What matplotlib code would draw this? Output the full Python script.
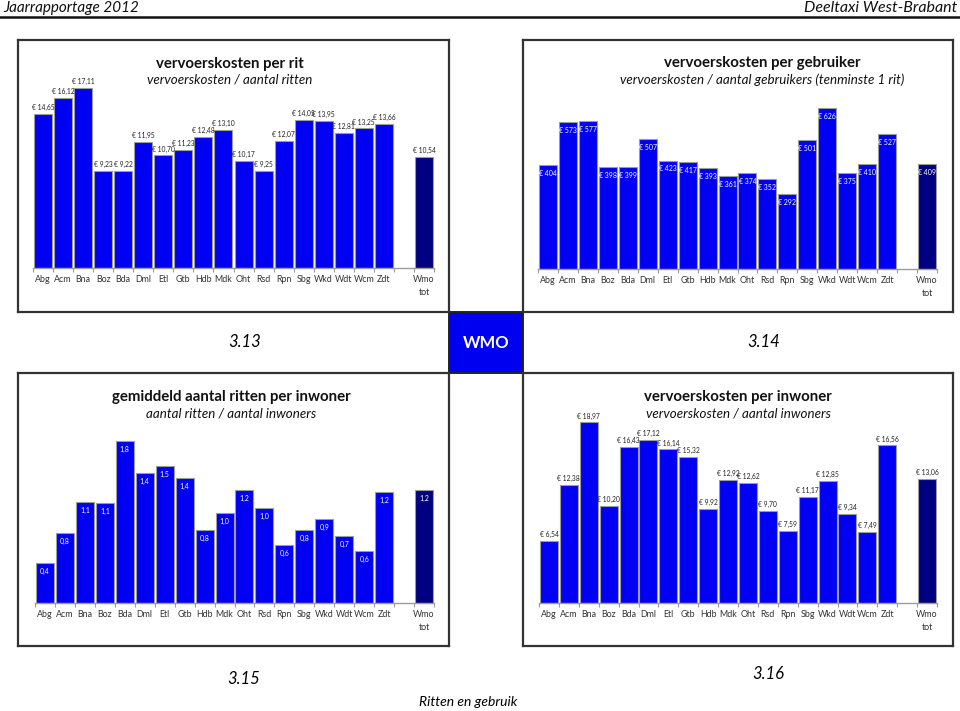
import matplotlib
matplotlib.use("Agg")
import matplotlib.pyplot as plt
from matplotlib.patches import Rectangle
from matplotlib.lines import Line2D

plt.rcParams["font.family"] = ["Lato", "DejaVu Sans"]

W, H = 960, 711

gemeenten = ["Abg", "Acm", "Bna", "Boz", "Bda", "Dml", "Etl", "Gtb", "Hdb",
             "Mdk", "Oht", "Rsd", "Rpn", "Sbg", "Wkd", "Wdt", "Wcm", "Zdt"]
tick_labels = gemeenten + ["", "Wmo\ntot"]

kosten_per_rit = [14.65, 16.12, 17.11, 9.23, 9.22, 11.95, 10.70, 11.23, 12.48,
                  13.10, 10.17, 9.25, 12.07, 14.05, 13.95, 12.81, 13.25, 13.66]
kosten_per_rit_wmo = 10.54

kosten_per_gebruiker = [404, 573, 577, 398, 399, 507, 423, 417, 393, 361, 374,
                        352, 292, 501, 626, 375, 410, 527]
kosten_per_gebruiker_wmo = 409

ritten_per_inwoner = [0.44, 0.77, 1.11, 1.10, 1.78, 1.43, 1.51, 1.37, 0.80,
                      0.99, 1.24, 1.04, 0.64, 0.80, 0.92, 0.74, 0.57, 1.22]
ritten_per_inwoner_wmo = 1.24

kosten_per_inwoner = [6.54, 12.38, 18.97, 10.20, 16.43, 17.12, 16.14, 15.32,
                      9.92, 12.92, 12.62, 9.70, 7.59, 11.17, 12.85, 9.34, 7.49,
                      16.56]
kosten_per_inwoner_wmo = 13.06

BLUE = "#0000f2"
NAVY = "#000080"
EDGE = "#9c9c9c"

fig = plt.figure(figsize=(W / 100, H / 100), dpi=100)


def fx(x):
    return x / W


def fy(y):
    return 1 - y / H


def hline(x0, x1, y, lw=1.6, color="#333333"):
    fig.add_artist(Line2D([fx(x0), fx(x1)], [fy(y), fy(y)], color=color, lw=lw))


def vline(x, y0, y1, lw=1.6, color="#333333"):
    fig.add_artist(Line2D([fx(x), fx(x)], [fy(y0), fy(y1)], color=color, lw=lw))


def box(x0, y0, x1, y1):
    hline(x0, x1, y0)
    hline(x0, x1, y1)
    vline(x0, y0, y1)
    vline(x1, y0, y1)


def bar_chart(x0, x1, base, top, scale, values, wmo, fmt, inside):
    ymax = (base - top) / scale
    ax = fig.add_axes([fx(x0), fy(base), (x1 - x0) / W, (base - top) / H])
    pos = list(range(18)) + [19]
    vals = list(values) + [wmo]
    colors = [BLUE] * 18 + [NAVY]
    ax.bar(pos, vals, width=0.9, color=colors, edgecolor=EDGE, linewidth=0.8)
    ax.set_xlim(-0.5, 19.5)
    ax.set_ylim(0, ymax)
    for p, v in zip(pos, vals):
        if inside:
            ax.annotate(fmt(v), (p, v), xytext=(0, -3.5), textcoords="offset points",
                        ha="center", va="top", fontsize=5.0, color="white")
        else:
            ax.annotate(fmt(v), (p, v), xytext=(0, 2), textcoords="offset points",
                        ha="center", va="bottom", fontsize=4.9, color="#222222")
    ax.set_xticks([i - 0.5 for i in range(21)])
    ax.set_xticklabels([])
    ax.set_xticks(range(20), minor=True)
    ax.set_xticklabels(tick_labels, minor=True, fontsize=6.4, color="#333333",
                       linespacing=1.6, va="top")
    ax.tick_params(axis="x", which="major", length=3, color=EDGE, direction="out")
    ax.tick_params(axis="x", which="minor", length=0, pad=5)
    ax.set_yticks([])
    for s in ["top", "left", "right"]:
        ax.spines[s].set_visible(False)
    ax.spines["bottom"].set_color(EDGE)
    ax.spines["bottom"].set_linewidth(1.0)
    return ax


def euro2(v):
    return "€ " + f"{v:.2f}".replace(".", ",")


def euro0(v):
    return f"€ {v:.0f}"


def dec1(v):
    return f"{v:.1f}".replace(".", ",")


# header
fig.text(fx(3), fy(8), "Jaarrapportage 2012", fontsize=11, style="italic",
         ha="left", va="center", color="#111111")
fig.text(fx(957), fy(8), "Deeltaxi West-Brabant", fontsize=11.5, style="italic",
         ha="right", va="center", color="#111111")
hline(0, 960, 16.5, lw=1.8, color="#111111")

# frames
box(18, 40, 449, 312)
box(523, 40, 953, 312)
box(18, 373, 449, 646)
box(523, 373, 953, 646)
fig.add_artist(Rectangle((fx(449), fy(373)), (523 - 449) / W, (373 - 312) / H,
                         facecolor="#0000f0", edgecolor="#222222", lw=1.4,
                         transform=fig.transFigure))
fig.text(fx(486), fy(343), "WMO", color="white", fontsize=12, fontweight="bold",
         ha="center", va="center")

# charts
bar_chart(33, 434, 268, 60, 10.53, kosten_per_rit, kosten_per_rit_wmo, euro2, False)
bar_chart(538, 937, 269, 60, 0.2565, kosten_per_gebruiker, kosten_per_gebruiker_wmo,
          euro0, True)
bar_chart(35, 434, 603, 420, 91.0, ritten_per_inwoner, ritten_per_inwoner_wmo,
          dec1, True)
bar_chart(539, 937, 603, 420, 9.52, kosten_per_inwoner, kosten_per_inwoner_wmo,
          euro2, False)

# titles
titles = [
    (230, 64, 80, "vervoerskosten per rit", "vervoerskosten / aantal ritten"),
    (762, 63, 80, "vervoerskosten per gebruiker",
     "vervoerskosten / aantal gebruikers (tenminste 1 rit)"),
    (231, 397, 414, "gemiddeld aantal ritten per inwoner",
     "aantal ritten / aantal inwoners"),
    (738, 397, 414, "vervoerskosten per inwoner", "vervoerskosten / aantal inwoners"),
]
for x, y1, y2, t, s in titles:
    fig.text(fx(x), fy(y1), t, fontsize=10.8, fontweight="bold", ha="center",
             va="center", color="#111111")
    fig.text(fx(x), fy(y2), s, fontsize=9.6, style="italic", ha="center",
             va="center", color="#111111")

# figure numbers
fig.text(fx(245), fy(342), "3.13", fontsize=12, style="italic", ha="center", va="center")
fig.text(fx(764), fy(342), "3.14", fontsize=12, style="italic", ha="center", va="center")
fig.text(fx(244), fy(679), "3.15", fontsize=12, style="italic", ha="center", va="center")
fig.text(fx(768), fy(674), "3.16", fontsize=12, style="italic", ha="center", va="center")
fig.text(fx(468), fy(702), "Ritten en gebruik", fontsize=10, style="italic",
         ha="center", va="center")

fig.savefig("out.png", dpi=100)
